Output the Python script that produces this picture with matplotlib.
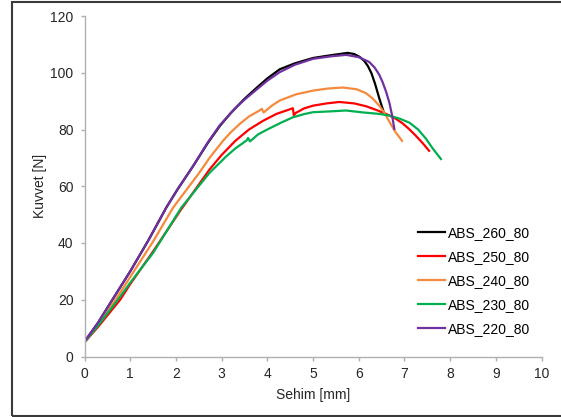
import matplotlib.pyplot as plt
from matplotlib.patches import Rectangle

plt.rcParams['font.family'] = ['Liberation Sans', 'DejaVu Sans']

# deflection [mm] / force [N] readings for each specimen
x_260 = [0, 0.3, 0.61, 1.0, 1.4, 1.79, 2.04, 2.38, 2.7, 2.96, 3.2, 3.5, 3.76, 4.0, 4.27, 4.6,
         5.0, 5.4, 5.76, 5.9, 6.02, 6.12, 6.2, 6.28, 6.36, 6.45, 6.54]
y_260 = [5.2, 12, 20, 30, 41, 52.5, 59, 67.2, 75.3, 81.2, 85.8, 90.8, 94.6, 98, 101.2, 103.3,
         105.2, 106.2, 107, 106.6, 105.6, 104.2, 102.4, 99.8, 96, 91, 86.5]

x_250 = [0, 0.3, 0.78, 1.0, 1.5, 2.1, 2.74, 3.0, 3.3, 3.6, 3.9, 4.2, 4.4, 4.56, 4.58, 4.62,
         4.8, 5.0, 5.3, 5.58, 5.9, 6.16, 6.4, 6.6, 6.8, 6.95, 7.1, 7.25, 7.4, 7.54]
y_250 = [5, 10.5, 20, 25.5, 37, 51.5, 66, 71, 76, 80, 83, 85.5, 86.6, 87.5, 85, 85.8,
         87.4, 88.4, 89.2, 89.7, 89.2, 88.2, 86.8, 85.5, 83.9, 82.3, 80.2, 77.8, 75.2, 72.5]

x_240 = [0, 0.3, 0.68, 1.0, 1.5, 1.94, 2.5, 2.75, 3.03, 3.2, 3.4, 3.6, 3.83, 3.88, 3.92,
         4.1, 4.27, 4.63, 5.0, 5.3, 5.65, 5.95, 6.16, 6.3, 6.45, 6.57, 6.67, 6.8, 6.95]
y_240 = [5, 11.5, 20, 28, 40.5, 52.5, 64.5, 70.3, 76, 79, 82, 84.6, 86.7, 87.3, 86,
         88.4, 90.2, 92.4, 93.7, 94.4, 94.8, 94.2, 92.8, 91, 88.4, 85.7, 82.8, 79.2, 76]

x_230 = [0, 0.3, 0.73, 1.0, 1.5, 2.12, 2.74, 3.1, 3.3, 3.55, 3.58, 3.62, 3.8, 4.0, 4.3,
         4.56, 4.8, 5.0, 5.4, 5.72, 6.1, 6.45, 6.67, 6.9, 7.11, 7.3, 7.47, 7.62, 7.8]
y_230 = [5, 11, 20, 26, 36.5, 52.5, 64.8, 70.5, 73.3, 76.2, 77, 75.8, 78.3, 80, 82.4,
         84.3, 85.4, 86.1, 86.4, 86.7, 86, 85.5, 84.9, 83.8, 82.4, 80, 76.8, 73.3, 69.6]

x_220 = [0, 0.3, 0.61, 1.0, 1.4, 1.79, 2.04, 2.38, 2.7, 2.96, 3.3, 3.5, 3.76, 4.0, 4.27,
         4.6, 5.0, 5.4, 5.73, 6.0, 6.23, 6.35, 6.45, 6.52, 6.6, 6.67, 6.73, 6.78]
y_220 = [5.2, 12, 20, 30, 41, 52.5, 59, 67.2, 75.5, 81.5, 87.5, 90.5, 94, 97.2, 100.2,
         102.8, 104.9, 105.8, 106.3, 105.5, 103.8, 101.8, 99.3, 96.8, 93.3, 89.5, 85, 80.2]

labels = ['ABS_260_80', 'ABS_250_80', 'ABS_240_80', 'ABS_230_80', 'ABS_220_80']
colors = ['#000000', '#ff0000', '#f58a3c', '#00b050', '#7030a0']
series = [(x_260, y_260), (x_250, y_250), (x_240, y_240), (x_230, y_230), (x_220, y_220)]

fig = plt.figure(figsize=(5.61, 4.17), dpi=100)
ax = fig.add_axes([84.5 / 561, 1 - 356.5 / 417, 457 / 561, 340.5 / 417])

for (xs, ys), lab, c in zip(series, labels, colors):
    ax.plot(xs, ys, color=c, lw=1.6, label=lab, solid_joinstyle='round')

ax.set_xlim(0, 10)
ax.set_ylim(0, 120)
ax.set_xticks(range(0, 11))
ax.set_yticks(range(0, 121, 20))

for side in ['top', 'right']:
    ax.spines[side].set_visible(False)
for side in ['left', 'bottom']:
    ax.spines[side].set_color('#b0b0b0')
    ax.spines[side].set_linewidth(1)
ax.tick_params(axis='both', direction='out', length=3, width=1, color='#b0b0b0',
               labelsize=10, labelcolor='#262626')
ax.tick_params(axis='y', pad=5)
ax.tick_params(axis='x', pad=4.5)

ax.set_xlabel('Sehim [mm]', fontsize=10, color='#262626', labelpad=5)
ax.set_ylabel('Kuvvet [N]', fontsize=10, color='#262626', labelpad=2)

ax.legend(loc='upper left', bbox_to_anchor=(418 / 561, 1 - 226 / 417),
          bbox_transform=fig.transFigure, frameon=False, fontsize=10,
          handlelength=1.95, handletextpad=0.22, labelspacing=0.72,
          borderpad=0, borderaxespad=0)

# outer frame around the chart area
fig.patches.append(Rectangle((12 / 561, 1.5 / 417), 1.0, 1 - 3 / 417,
                             transform=fig.transFigure, fill=False,
                             edgecolor='#3a3a3a', lw=1.5, clip_on=False))

fig.savefig('out.png', dpi=100)
